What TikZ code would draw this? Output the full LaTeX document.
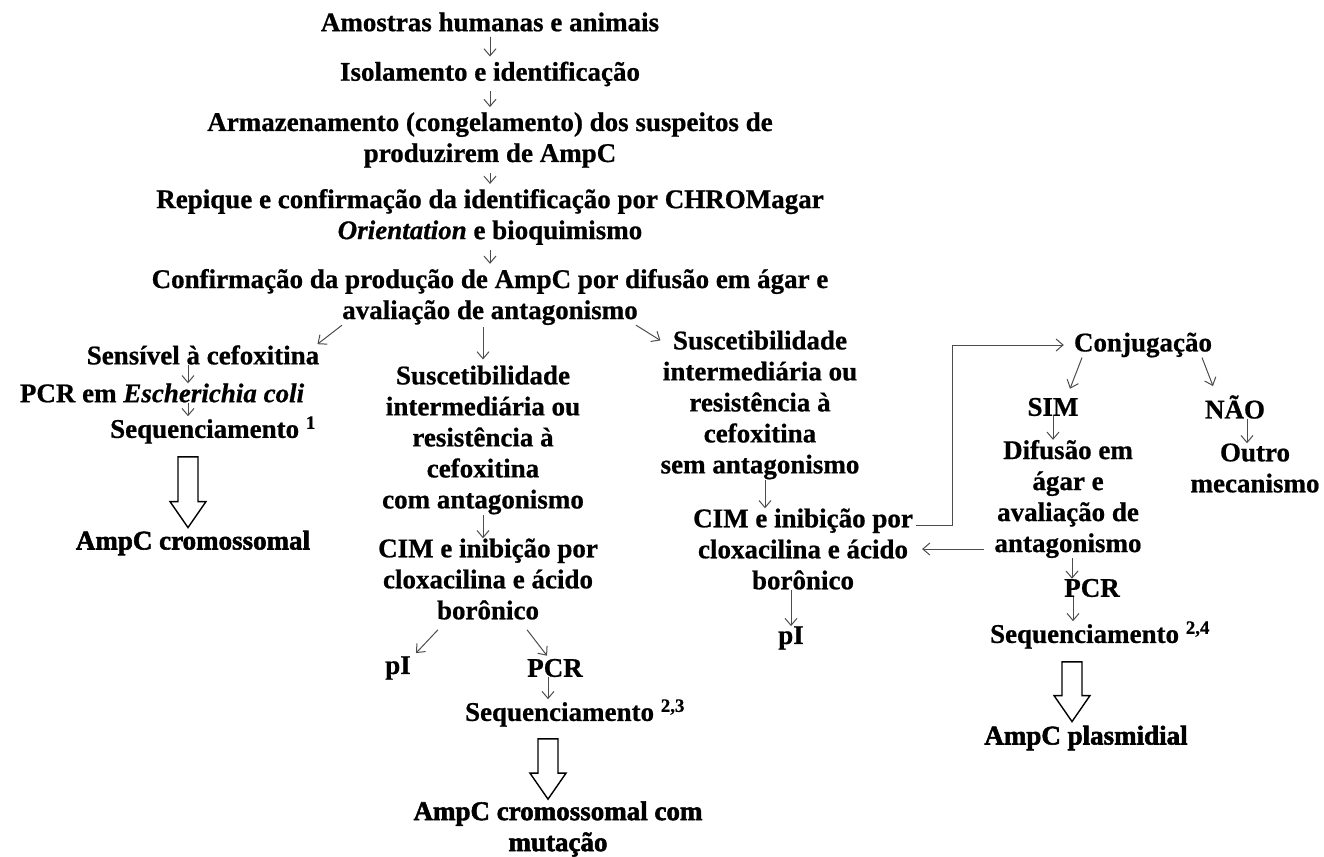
\documentclass[tikz,border=0pt]{standalone}
\usepackage{fontspec}
\setmainfont{Liberation Serif}
\newfontfamily\texto{Liberation Serif Bold}[FakeBold=0.7, ItalicFont={Liberation Serif Bold Italic}]
\newfontfamily\grosso{Liberation Serif Bold}[FakeBold=2]
\usetikzlibrary{arrows.meta,calc}

\begin{document}
\begin{tikzpicture}[x=1pt,y=-1pt,
  every node/.style={font=\fontsize{27}{31}\selectfont\texto, align=center, inner sep=0pt},
  fim/.style={font=\fontsize{27}{31}\selectfont\grosso},
  seta/.style={draw=black!70, line width=1pt, -{Straight Barb[length=7pt,width=12pt]}},
  curta/.style={shorten <=5pt, shorten >=5pt},
  fat/.style={line width=1.4pt, to path={let \p1=(\tikztostart), \p2=(\tikztotarget) in
    (\x2-10pt,\y1) -- (\x2-10pt,\y2+26pt) -- (\x2-18pt,\y2+26pt) -- (\x2,\y2)
    -- (\x2+18pt,\y2+26pt) -- (\x2+10pt,\y2+26pt) -- (\x2+10pt,\y1) -- cycle}}]
\useasboundingbox (0,0) rectangle (1324,856);

  % tronco
  \node (n1) at (490,22) {Amostras humanas e animais};
  \node (n2) at (490,74) {Isolamento e identificação};
  \node (n3) at (490,140) {Armazenamento (congelamento) dos suspeitos de\\produzirem de AmpC};
  \node (n4) at (490,217) {Repique e confirmação da identificação por CHROMagar\\\textit{Orientation} e bioquimismo};
  \node (n5) at (490,297) {Confirmação da produção de AmpC por difusão em ágar e\\avaliação de antagonismo};
  \draw[seta,curta] (n1) -- (n2);
  \draw[seta,curta] (n2) -- (n3);
  \draw[seta,curta] (n3) -- (n4);
  \draw[seta,curta] (n4) -- (n5);

  % sensivel
  \node (s1) at (203,355) {Sensível à cefoxitina};
  \node (s2) at (162,393) {PCR em \textit{Escherichia coli}};
  \node (s3) at (213,430) {Sequenciamento \textsuperscript{1}};
  \node[fim] (s4) at (193,543) {AmpC cromossomal};
  \draw[seta] ([xshift=-148pt]n5.south) -- ([xshift=-2pt,yshift=1pt]s1.north east);
  \draw[seta] ([xshift=-15pt]s1.south) -- ([xshift=-15pt]s1.south |- s2.north);
  \draw[seta] ([xshift=26pt]s2.south) -- ([xshift=26pt]s2.south |- s3.north);
  \draw[fat] ([yshift=-13pt]s3.south) to ([xshift=-5pt,yshift=3pt]s4.north);

  % com antagonismo
  \node (m1) at (483,440) {Suscetibilidade\\intermediária ou\\resistência à\\cefoxitina\\com antagonismo};
  \node (m2) at (488,579) {CIM e inibição por\\cloxacilina e ácido\\borônico};
  \node (p1) at (398,668) {pI};
  \node (p2) at (555,668) {PCR};
  \node (q2) at (575,713) {Sequenciamento \textsuperscript{2,3}};
  \node[fim] (a2) at (558,829) {AmpC cromossomal com\\mutação};
  \draw[seta,shorten <=2pt,shorten >=6pt] (m1.north |- n5.south) -- (m1.north);
  \draw[seta] (m1.south) -- (m1.south |- m2.north);
  \draw[seta] ([xshift=-50pt,yshift=-10pt]m2.south) -- ([xshift=5pt,yshift=3pt]p1.north east);
  \draw[seta] ([xshift=39pt,yshift=-10pt]m2.south) -- ([xshift=20pt,yshift=3pt]p2.north west);
  \draw[seta] ([xshift=-7pt]p2.south) -- ([xshift=-7pt]p2.south |- q2.north);
  \draw[fat] ([yshift=-12pt]q2.south) to ([xshift=-10pt,yshift=2pt]a2.north);

  % sem antagonismo
  \node (r1) at (760,405) {Suscetibilidade\\intermediária ou\\resistência à\\cefoxitina\\sem antagonismo};
  \node (r2) at (803,549) {CIM e inibição por\\cloxacilina e ácido\\borônico};
  \node (p4) at (791,638) {pI};
  \draw[seta] ([xshift=146pt]n5.south) -- ([yshift=-10pt]r1.north west);
  \draw[seta] ([xshift=5pt]r1.south) -- ([xshift=5pt]r1.south |- r2.north);
  \draw[seta] (p4.north |- r2.south) -- (p4.north);

  % conjugacao
  \node (c1) at (1143,345) {Conjugação};
  \node (sim) at (1053,407) {SIM};
  \node (nao) at (1235,407) {NÃO};
  \node (d1) at (1068,499) {Difusão em\\ágar e\\avaliação de\\antagonismo};
  \node (o1) at (1255,468) {Outro\\mecanismo};
  \node (p3) at (1092,588) {PCR};
  \node (q3) at (1100,635) {Sequenciamento \textsuperscript{2,4}};
  \node[fim] (a3) at (1086,738) {AmpC plasmidial};
  \draw[seta] ([xshift=3pt,yshift=-17pt]r2.north east) -- ++(36,0) |- ([xshift=-10pt]c1.west);
  \draw[seta] ([xshift=-61pt]c1.south) -- ([xshift=17pt,yshift=9pt]sim.north);
  \draw[seta] ([xshift=59pt]c1.south) -- ([xshift=-22pt,yshift=9pt]nao.north);
  \draw[seta] (sim.south) -- (sim.south |- d1.north);
  \draw[seta] ([xshift=12pt]nao.south) -- ([xshift=12pt]nao.south |- o1.north);
  \draw[seta] ($(d1.south west |- r2.east)+(-10,0)$) -- ([xshift=9pt]r2.east);
  \draw[seta] ([xshift=4pt]d1.south) -- ([xshift=4pt]d1.south |- p3.north);
  \draw[seta] ([xshift=-19pt]p3.south) -- ([xshift=-19pt]p3.south |- q3.north);
  \draw[fat] ([yshift=-13pt]q3.south) to ([xshift=-14pt,yshift=4pt]a3.north);
\end{tikzpicture}
\end{document}
